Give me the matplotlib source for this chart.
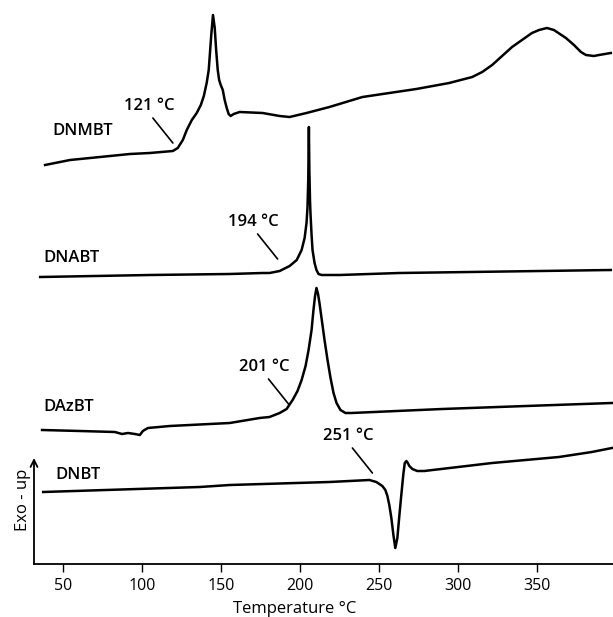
import numpy as np
import matplotlib
matplotlib.use("Agg")
import matplotlib.pyplot as plt

# DSC traces, x in deg C, y in stacked arbitrary units (height above axis)
dnmbt_t = [38.6, 54.4, 73.4, 92.3, 104.9, 119.5, 122.6, 125.8, 128.3, 131.5, 134.6, 137.2,
           139.1, 140.9, 142.2, 142.8, 143.8, 144.9, 146.0, 146.9, 147.9, 148.8, 149.8,
           151.1, 152.3, 153.6, 154.8, 156.1, 158.0, 161.8, 176.3, 187.1, 193.4, 204.1,
           218.6, 239.5, 256.5, 273.6, 294.4, 309.0, 315.3, 321.6, 327.9, 334.2, 340.5,
           346.8, 351.3, 356.3, 360.7, 368.3, 373.4, 377.8, 381.0, 386.0, 389.2, 396.7]
dnmbt_h = [399, 404, 407, 410, 411, 413, 416, 424, 434, 444, 451, 459,
           468, 481, 494, 507, 529, 549, 536, 514, 494, 484, 479,
           474, 464, 456, 450, 448, 450, 452, 451, 448, 447, 451,
           457, 467, 471, 475, 481, 487, 492, 499, 508, 517, 524,
           531, 534, 536, 534, 526, 519, 512, 509, 508, 509, 511]

dnabt_t = [35.5, 105.0, 155.5, 176.3, 180.7, 187.1, 193.4, 197.9, 201.0, 202.9, 204.1,
           204.7, 205.2, 205.6, 205.9, 206.3, 206.6, 207.3, 207.9, 209.2, 210.4, 211.7,
           213.6, 225.0, 262.8, 396.7]
dnabt_h = [287, 289, 290, 291, 291, 293, 298, 304, 314, 326, 341,
           356, 384, 437, 394, 364, 351, 329, 314, 301, 294, 290,
           289, 289, 291, 294]

dazbt_t = [36.7, 60.7, 82.8, 87.3, 91.1, 95.5, 98.6, 100.5, 103.7, 117.6, 155.5, 174.4,
           180.7, 187.1, 191.5, 195.3, 198.4, 201.0, 203.5, 205.4, 207.3, 208.5, 209.5,
           210.4, 211.4, 212.3, 213.6, 215.5, 217.4, 219.3, 221.2, 223.1, 225.6, 228.7,
           232.5, 290.0, 343.1, 397.4]
dazbt_h = [134, 133, 132, 130, 131, 130, 129, 133, 136, 138, 141, 146,
           147, 151, 155, 164, 173, 184, 198, 214, 234, 254, 268,
           276, 270, 261, 246, 224, 204, 186, 171, 161, 154, 151,
           151, 155, 158, 161]

dnbt_t = [37.4, 136.5, 155.5, 218.6, 243.9, 248.3, 250.2, 252.1, 254.0, 255.3, 256.5,
          257.8, 259.1, 260.3, 261.6, 262.9, 264.1, 265.4, 266.3, 267.3, 268.2, 269.2,
          271.1, 274.2, 278.6, 321.6, 363.9, 384.7, 397.4]
dnbt_h = [72, 77, 79, 82, 84, 82, 80, 78, 74, 68, 59,
          46, 29, 16, 26, 49, 69, 90, 101, 103, 101, 98,
          95, 93, 93, 101, 107, 112, 116]

names = ["DNMBT", "DNABT", "DAzBT", "DNBT"]
name_t = [43.1, 37.4, 37.4, 45.0]
name_h = [433, 306, 157, 89]

onsets = ["121 °C", "194 °C", "201 °C", "251 °C"]
onset_t = [119.5, 185.8, 192.7, 245.8]
onset_h = [421, 305, 160, 91]

xticks = [50, 100, 150, 200, 250, 300, 350]

FONT = ["Open Sans", "DejaVu Sans"]
plt.rcParams["font.family"] = FONT

fig = plt.figure(figsize=(6.13, 6.17), dpi=100)
ax = fig.add_axes([34 / 613, 53 / 617, 579 / 613, 564 / 617])

for t, h in [(dnmbt_t, dnmbt_h), (dnabt_t, dnabt_h), (dazbt_t, dazbt_h), (dnbt_t, dnbt_h)]:
    ax.plot(t, h, color="black", lw=1.8, solid_joinstyle="round")

for n, t, h in zip(names, name_t, name_h):
    ax.text(t, h, n, ha="left", va="center", fontsize=12, fontweight="semibold")

for s, t, h in zip(onsets, onset_t, onset_h):
    ax.annotate("", xy=(t, h), xytext=(-20, 25), textcoords="offset pixels",
                arrowprops=dict(arrowstyle="-", color="black", lw=1.2, shrinkA=0, shrinkB=0))
    ax.annotate(s, xy=(t, h), xytext=(-24, 37), textcoords="offset pixels",
                ha="center", va="center", fontsize=12, fontweight="semibold")

ax.set_xlim(31.6, 398.1)
ax.set_ylim(0, 564)
ax.set_xticks(xticks)
ax.set_yticks([])
ax.tick_params(axis="x", direction="out", length=6, width=1, labelsize=11.5, pad=4)
for side in ["top", "right", "left"]:
    ax.spines[side].set_visible(False)
ax.spines["bottom"].set_linewidth(1.3)

# y axis drawn as an arrow
ax.annotate("", xy=(0, 106 / 564), xytext=(0, 0), xycoords="axes fraction",
            arrowprops=dict(arrowstyle="->,head_length=0.5,head_width=0.25", color="black",
                            lw=1.3, shrinkA=0, shrinkB=0))

ax.set_xlabel("Temperature °C", fontsize=12)
ax.xaxis.set_label_coords(0.451, -0.065)
fig.text(23 / 613, 1 - 500 / 617, "Exo - up", rotation=90, ha="center", va="center", fontsize=12)

fig.savefig("out.png", dpi=100)
